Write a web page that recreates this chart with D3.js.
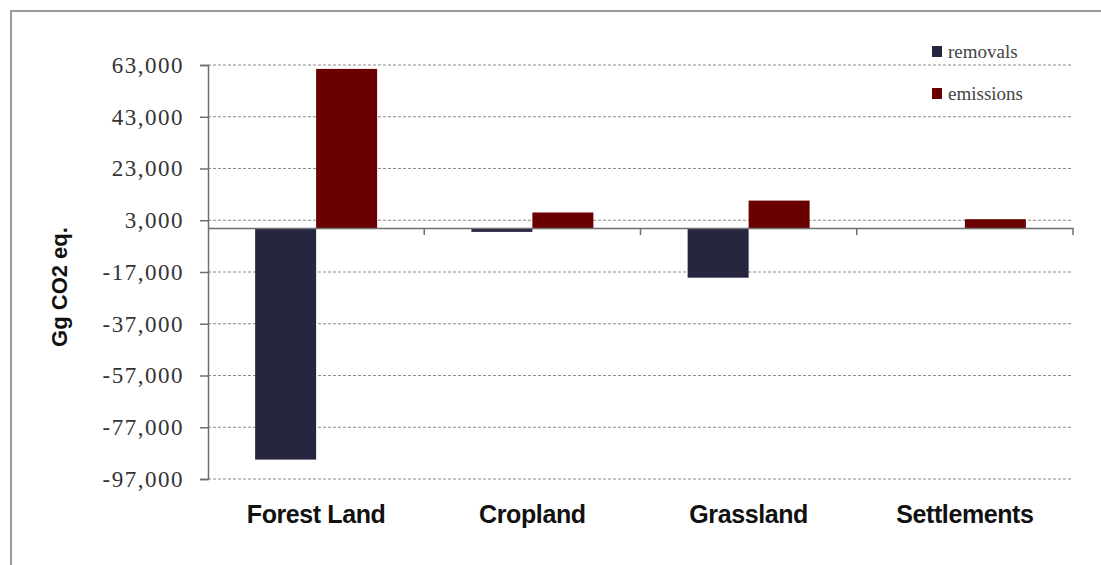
<!DOCTYPE html>
<html><head><meta charset="utf-8">
<script src="https://cdn.jsdelivr.net/npm/d3@7"></script>
<style>body{margin:0;background:#fff}svg{display:block}</style>
</head><body>
<svg id="c" width="1101" height="565"></svg>
<script>
const categories = ["Forest Land", "Cropland", "Grassland", "Settlements"];
const removals = [-89500, -1500, -19200, 0];
const emissions = [61500, 6000, 10600, 3400];
const tickValues = [63000, 43000, 23000, 3000, -17000, -37000, -57000, -77000, -97000];
const seriesNames = ["removals", "emissions"];
const colors = {removals: "#262640", emissions: "#6b0000"};

const svg = d3.select("#c");
// outer frame
svg.append("rect").attr("x", 11).attr("y", 11).attr("width", 1100).attr("height", 600)
  .attr("fill", "none").attr("stroke", "#9a9a9a").attr("stroke-width", 2);

const x0 = 208, x1 = 1073;
const y = d3.scaleLinear().domain([-97000, 63000]).range([479, 65]);
const x = d3.scaleBand().domain(categories).range([x0, x1]).paddingInner(0).paddingOuter(0);
const bw = 61;

// gridlines
svg.append("g").selectAll("line").data(tickValues).join("line")
  .attr("x1", x0).attr("x2", x1).attr("y1", d => y(d)).attr("y2", d => y(d))
  .attr("stroke", "#8a8a8a").attr("stroke-width", 1).attr("stroke-dasharray", "3,2");

// y axis
const fmt = d3.format(",");
const yAxis = d3.axisLeft(y).tickValues(tickValues).tickSize(8).tickPadding(16)
  .tickFormat(d => fmt(d).replace("\u2212", "-"));
const ga = svg.append("g").attr("transform", `translate(${x0},0)`).call(yAxis);
ga.select(".domain").attr("stroke", "#6e6e6e").attr("stroke-width", 1.5);
ga.selectAll(".tick line").attr("stroke", "#6e6e6e").attr("stroke-width", 1.5);
ga.selectAll(".tick text").attr("font-family", "Liberation Serif, Times New Roman, serif")
  .attr("font-size", 23).attr("letter-spacing", 1.5).attr("fill", "#333");

// bars
const data = categories.map((c, i) => ({c, r: removals[i], e: emissions[i]}));
const g = svg.append("g");
data.forEach(d => {
  const cx = x(d.c) + x.bandwidth() / 2;
  if (d.r !== 0) g.append("rect").attr("x", cx - bw).attr("width", bw)
    .attr("y", y(0)).attr("height", y(d.r) - y(0)).attr("fill", colors.removals);
  g.append("rect").attr("x", cx).attr("width", bw)
    .attr("y", y(d.e)).attr("height", y(0) - y(d.e)).attr("fill", colors.emissions);
});

// x axis at zero
const xAxis = d3.axisBottom(x).tickSize(0).tickFormat("");
const gx = svg.append("g").attr("transform", `translate(0,${y(0)})`).call(xAxis);
gx.select(".domain").attr("stroke", "#6e6e6e").attr("stroke-width", 1.5);
svg.append("g").selectAll("line").data(categories.slice(1).concat(["__end"])).join("line")
  .attr("x1", (d, i) => x0 + x.bandwidth() * (i + 1)).attr("x2", (d, i) => x0 + x.bandwidth() * (i + 1))
  .attr("y1", y(0)).attr("y2", y(0) + 7).attr("stroke", "#6e6e6e").attr("stroke-width", 1.5);

// category labels
svg.append("g").selectAll("text").data(categories).join("text")
  .attr("x", d => x(d) + x.bandwidth() / 2).attr("y", 523)
  .attr("text-anchor", "middle").attr("font-family", "Liberation Sans, Arial, sans-serif")
  .attr("font-weight", "bold").attr("font-size", 25).attr("fill", "#111").attr("letter-spacing", -0.4)
  .text(d => d);

// y title
svg.append("text").attr("transform", "translate(67,287) rotate(-90)")
  .attr("text-anchor", "middle").attr("font-family", "Liberation Sans, Arial, sans-serif")
  .attr("font-weight", "bold").attr("font-size", 22).attr("fill", "#111").text("Gg CO2 eq.");

// legend
const lg = svg.append("g");
seriesNames.forEach((s, i) => {
  const ly = 46 + i * 42;
  lg.append("rect").attr("x", 932).attr("y", ly).attr("width", 10).attr("height", 11).attr("fill", colors[s]);
  lg.append("text").attr("x", 948).attr("y", ly + 12).attr("font-family", "Liberation Serif, Times New Roman, serif")
    .attr("font-size", 19).attr("fill", "#444").text(s);
});
</script>
</body></html>
